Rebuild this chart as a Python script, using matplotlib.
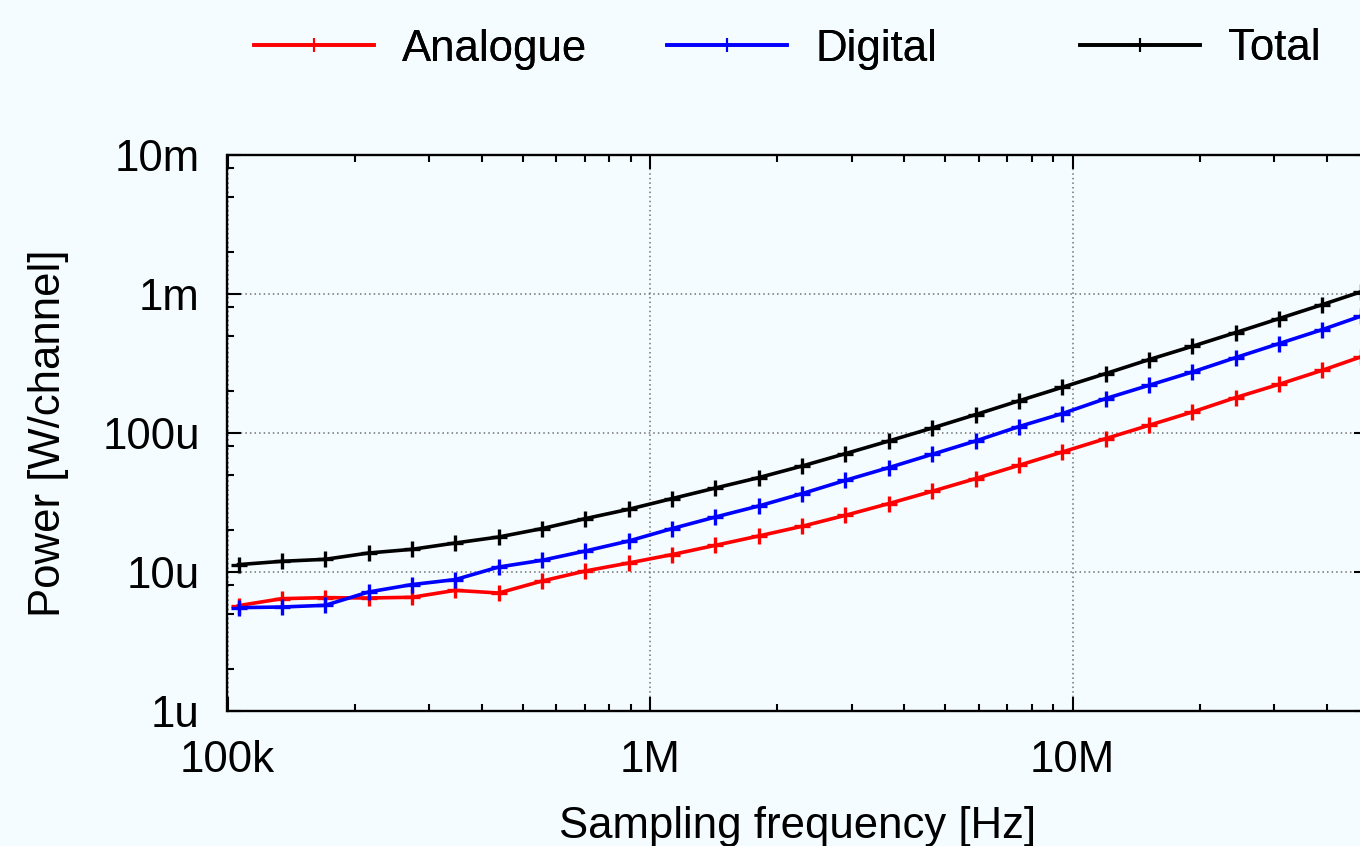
import matplotlib
matplotlib.use("Agg")
import matplotlib.pyplot as plt
from matplotlib.ticker import LogLocator, NullFormatter, FixedLocator, FixedFormatter

# ---- data ----
freq_hz = [106.2e3, 134.5e3, 170.3e3, 215.7e3, 273.2e3, 346.0e3, 438.2e3, 554.9e3,
           702.8e3, 890.1e3, 1.127e6, 1.428e6, 1.808e6, 2.290e6, 2.900e6, 3.673e6,
           4.652e6, 5.892e6, 7.462e6, 9.450e6, 11.97e6, 15.16e6, 19.20e6, 24.31e6,
           30.79e6, 38.99e6, 48.0e6]

analogue_uw = [5.73, 6.43, 6.54, 6.50, 6.58, 7.38, 7.06, 8.61, 10.17, 11.61, 13.34,
               15.56, 18.16, 21.32, 25.58, 31.06, 38.07, 46.99, 58.54, 72.97, 91.1,
               113.6, 141.6, 179.8, 224.0, 282.6, 352.2]
digital_uw = [5.54, 5.60, 5.76, 7.18, 8.12, 8.82, 10.86, 12.14, 14.16, 16.71, 20.52,
              24.87, 29.85, 36.64, 45.67, 56.36, 70.25, 87.6, 111.2, 137.9, 176.8,
              220.4, 274.7, 348.6, 439.8, 554.6, 691.3]
total_uw = [11.3, 11.94, 12.34, 13.70, 14.56, 16.17, 17.86, 20.52, 24.22, 28.26, 33.73,
            40.21, 47.76, 57.88, 71.07, 87.6, 108.6, 135.6, 170.4, 213.2, 267.5,
            337.3, 420.5, 527.7, 665.3, 838.9, 1034.0]

series_names = ["Analogue", "Digital", "Total"]
series_colors = ["#ff0000", "#0000ff", "#000000"]

x_ticks = [1e5, 1e6, 1e7]
x_tick_labels = ["100k", "1M", "10M"]
y_ticks = [1e-6, 1e-5, 1e-4, 1e-3, 1e-2]
y_tick_labels = ["1u", "10u", "100u", "1m", "10m"]
x_limits = (1e5, 5e7)
y_limits = (1e-6, 1e-2)

# ---- style ----
W, H = 1360, 846
bg = "#f5fcff"
fs = 31.5
plt.rcParams["font.family"] = ["Liberation Sans", "DejaVu Sans"]
plt.rcParams["font.size"] = fs

fig = plt.figure(figsize=(W / 100, H / 100), dpi=100, facecolor=bg)
ax = fig.add_axes([227.5 / W, 1 - 711 / H, (1368 - 227.5) / W, (711 - 155) / H])
ax.set_facecolor(bg)

series = [analogue_uw, digital_uw, total_uw]
lines = []
for name, vals, col in zip(series_names, series, series_colors):
    (ln,) = ax.plot(freq_hz, [v * 1e-6 for v in vals], color=col, lw=2.6,
                    marker="+", markersize=12, markeredgewidth=2.4, label=name,
                    clip_on=True, zorder=3)
    lines.append(ln)

ax.set_xscale("log")
ax.set_yscale("log")
ax.set_xlim(*x_limits)
ax.set_ylim(*y_limits)

ax.xaxis.set_major_locator(FixedLocator(x_ticks))
ax.xaxis.set_major_formatter(FixedFormatter(x_tick_labels))
ax.yaxis.set_major_locator(FixedLocator(y_ticks))
ax.yaxis.set_major_formatter(FixedFormatter(y_tick_labels))
ax.xaxis.set_minor_locator(LogLocator(base=10, subs=[2, 3, 4, 5, 6, 7, 8, 9], numticks=20))
ax.yaxis.set_minor_locator(LogLocator(base=10, subs=[2, 5, 8], numticks=20))
ax.xaxis.set_minor_formatter(NullFormatter())
ax.yaxis.set_minor_formatter(NullFormatter())

ax.tick_params(which="both", direction="in", top=True, right=True, colors="black")
ax.tick_params(which="major", length=10, width=1.5)
ax.tick_params(which="minor", length=5, width=1.5)
ax.tick_params(axis="x", which="major", pad=21)
ax.tick_params(axis="y", which="major", pad=20)

for sp in ax.spines.values():
    sp.set_linewidth(1.7)
    sp.set_color("black")

ax.grid(True, which="major", color="#707070", lw=1.1, linestyle=(0, (1, 2)), zorder=1)
ax.set_axisbelow(True)

ax.set_xlabel("Sampling frequency [Hz]", labelpad=18)
ax.set_ylabel("Power [W/channel]", labelpad=24)

# legend: three evenly spaced entries above the plot
hl = 120 / (fs * 100 / 72)
tp = 28 / (fs * 100 / 72)
for i, ln in enumerate(lines):
    x0 = (254 + 413 * i) / W
    leg = fig.legend(handles=[ln], labels=[series_names[i]], loc="center left",
                     bbox_to_anchor=(x0, 1 - 49 / H), frameon=False,
                     handlelength=hl, handletextpad=tp, borderpad=0,
                     borderaxespad=0, fontsize=fs, markerscale=0.8)
    for lh in leg.get_lines():
        lh.set_markeredgewidth(1.5)
    fig.add_artist(leg)

fig.savefig("out.png", dpi=100, facecolor=bg)
